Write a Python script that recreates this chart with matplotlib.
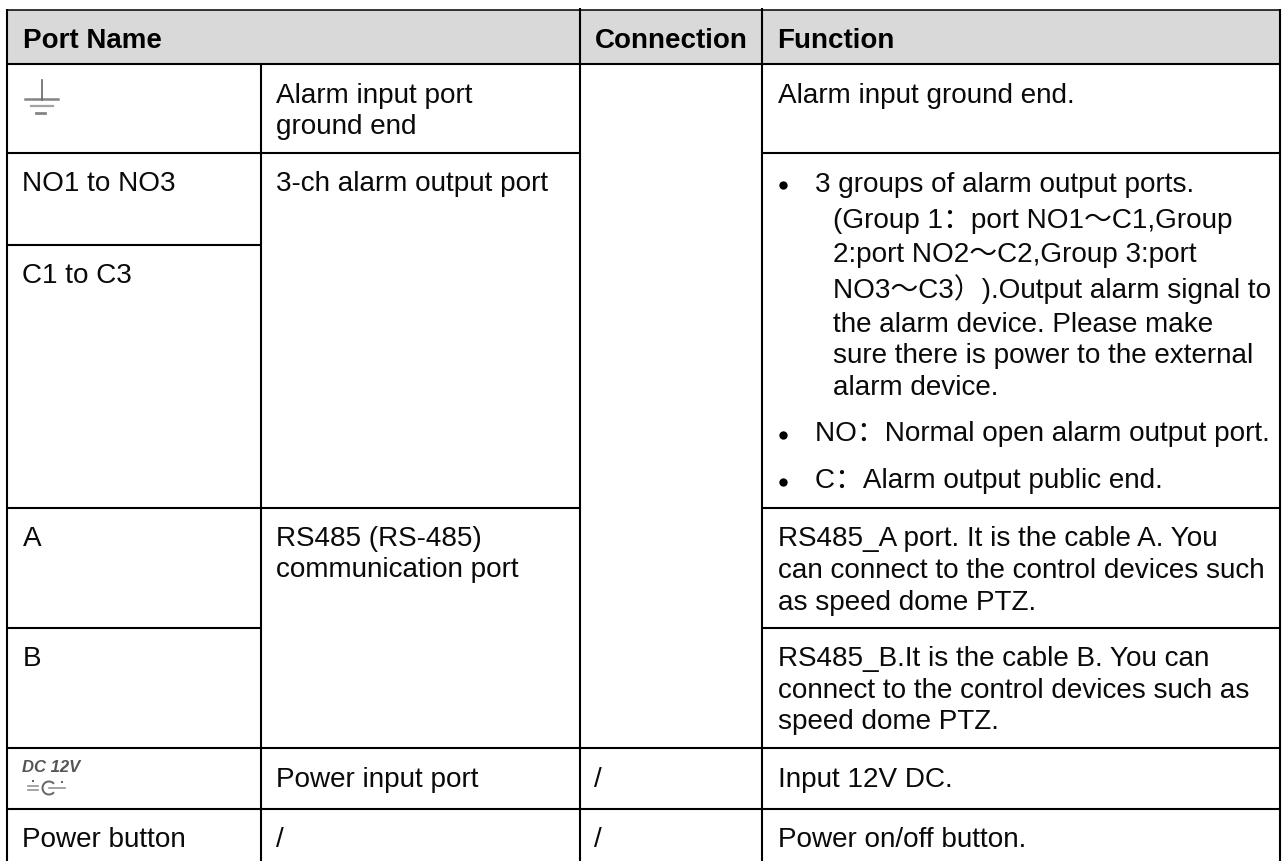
import matplotlib
matplotlib.use("Agg")
import matplotlib.pyplot as plt
from matplotlib.patches import Rectangle, Arc

W, H = 1282, 861
FS = 20.1
FAM = ['Liberation Sans', 'Noto Sans CJK SC']

header_labels = ["Port Name", "Connection", "Function"]
port_names = ["NO1 to NO3", "C1 to C3", "A", "B", "Power button"]
port_types = ["Alarm input port", "ground end", "3-ch alarm output port",
              "RS485 (RS-485)", "communication port", "Power input port", "/"]
connections = ["/", "/"]
func_plain = ["Alarm input ground end.",
              "RS485_A port. It is the cable A. You",
              "can connect to the control devices such",
              "as speed dome PTZ.",
              "RS485_B.It is the cable B. You can",
              "connect to the control devices such as",
              "speed dome PTZ.",
              "Input 12V DC.", "Power on/off button."]
bullet_1 = ["3 groups of alarm output ports.",
            "(Group 1：port NO1～C1,Group",
            "2:port NO2～C2,Group 3:port",
            "NO3～C3）).Output alarm signal to",
            "the alarm device. Please make",
            "sure there is power to the external",
            "alarm device."]
bullet_2 = "NO：Normal open alarm output port."
bullet_3 = "C：Alarm output public end."

fig = plt.figure(figsize=(W/100, H/100), dpi=100)
ax = fig.add_axes([0, 0, 1, 1])
ax.set_xlim(0, W); ax.set_ylim(H, 0); ax.axis('off')

XL, X1, X2, X3, XR = 7, 261, 580, 762, 1280
YT, Y0, Y1, Y2, Y3, Y4, Y5, Y6, YB = 9.5, 64, 153, 245, 508, 628, 748, 809, 861

ax.add_patch(Rectangle((XL, YT), XR-XL, Y0-YT, fc='#d9d9d9', ec='none'))
lw = 1.5
def h(y, a, b, w=lw): ax.plot([a, b], [y, y], color='k', lw=w, solid_capstyle='butt')
def v(x, a, b): ax.plot([x, x], [a, b], color='k', lw=lw, solid_capstyle='butt')
h(YT, XL, XR, 1.1); h(Y0, XL, XR)
h(Y1, XL, X2); h(Y1, X3, XR)
h(Y2, XL, X1)
h(Y3, XL, X2); h(Y3, X3, XR)
h(Y4, XL, X1); h(Y4, X3, XR)
h(Y5, XL, XR); h(Y6, XL, XR)
v(XL, YT-1, YB); v(XR, YT-1, YB)
v(X1, Y0, YB); v(X2, YT-1.5, YB); v(X3, YT-1.5, YB)

def t(x, y, s):
    ax.text(x, y, s, fontsize=FS, family=FAM, color='#0a0a0a', va='baseline')

for x, s in zip([23, 595, 777.5], header_labels):
    ax.text(x, 48, s, fontsize=20, family=FAM, weight='bold', color='k', va='baseline')

for y, s in zip([191, 283, 546, 666, 847], port_names):
    t(22.5, y, s)
for y, s in zip([103, 134, 191, 546, 577, 787, 847], port_types):
    t(275.5, y, s)
for y, s in zip([787, 847], connections):
    t(594, y, s)
for y, s in zip([103, 546, 578, 610, 666, 698, 729, 787, 847], func_plain):
    t(777.5, y, s)

for i, (y, l) in enumerate(zip([192, 228, 262, 298, 332, 363, 395], bullet_1)):
    t(815 if i == 0 else 833, y, l)
t(815, 441, bullet_2); t(815, 488, bullet_3)
for y in [185, 435, 482]:
    ax.plot([783], [y], 'o', ms=6, color='k', mew=0)

# ground symbol
G = '#666666'
ax.plot([42, 42], [80, 100], color=G, lw=1.2)
ax.plot([25, 58], [99, 99], color=G, lw=1.8, alpha=.8)
ax.plot([31, 53], [106, 106], color=G, lw=1.6, alpha=.6)
ax.plot([36, 45], [113, 113], color=G, lw=2.0, alpha=.8)

# DC 12V symbol
ax.text(22.5, 772, "DC 12V", fontsize=12, family='Liberation Sans', style='italic',
        weight='bold', color='#555555', va='baseline')
ax.add_patch(Arc((49, 788), 13, 13, theta1=40, theta2=320, ec=G, lw=1.4))
ax.plot([49, 65], [788, 788], color=G, lw=1.2, alpha=.7)
ax.plot([28, 38], [786, 786], color=G, lw=1.2, alpha=.7)
ax.plot([28, 38], [790, 790], color=G, lw=1.2, alpha=.7)
ax.plot([62], [782], 's', ms=1.6, color=G, mew=0)
ax.plot([33], [781], 's', ms=1.6, color=G, mew=0)

fig.savefig("out.png", dpi=100)
